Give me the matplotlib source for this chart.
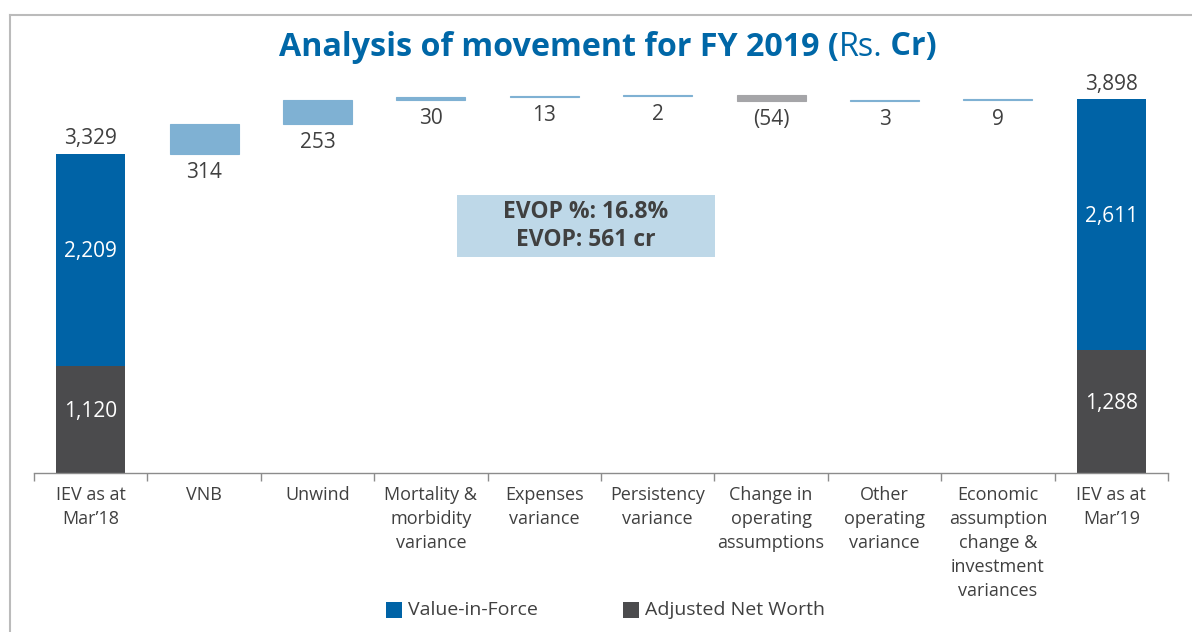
import matplotlib
matplotlib.use('Agg')
import matplotlib.pyplot as plt
from matplotlib.patches import Rectangle
from matplotlib.lines import Line2D

plt.rcParams['font.family'] = ['Open Sans', 'DejaVu Sans']

# ---- data ----
categories = ["IEV as at\nMar\u201918", "VNB", "Unwind", "Mortality &\nmorbidity\nvariance",
              "Expenses\nvariance", "Persistency\nvariance", "Change in\noperating\nassumptions",
              "Other\noperating\nvariance",
              "Economic\nassumption\nchange &\ninvestment\nvariances", "IEV as at\nMar\u201919"]
vif = [2209, 2611]          # Value-in-Force: opening, closing
anw = [1120, 1288]          # Adjusted Net Worth: opening, closing
totals = [3329, 3898]
changes = [314, 253, 30, 13, 2, -54, 3, 9]
change_labels = ["314", "253", "30", "13", "2", "(54)", "3", "9"]
evop_lines = ["EVOP %: 16.8%", "EVOP: 561 cr"]
legend_names = ["Value-in-Force", "Adjusted Net Worth"]

C_VIF = '#0063A6'
C_ANW = '#4B4B4D'
C_POS = '#7FB1D3'
C_NEG = '#A5A5A8'
C_TXT = '#404040'
C_TITLE = '#0067A7'

W, Hf = 1192, 632
fig = plt.figure(figsize=(W / 100, Hf / 100), dpi=100)
px_per_unit = (473 - 154) / 3329.0
ymax = 4000
axh = ymax * px_per_unit
ax = fig.add_axes([34 / W, 1 - 473 / Hf, 1134 / W, axh / Hf])
ax.set_xlim(-0.5, len(categories) - 0.5)
ax.set_ylim(0, ymax)

bw = 0.61
n = len(categories)
# total bars
for idx, pos in enumerate([0, n - 1]):
    ax.bar(pos, anw[idx], width=bw, color=C_ANW, linewidth=0)
    ax.bar(pos, vif[idx], bottom=anw[idx], width=bw, color=C_VIF, linewidth=0)
    ax.annotate(f"{totals[idx]:,}", (pos, totals[idx]), xytext=(0, 15),
                textcoords='offset pixels', ha='center', va='center',
                fontsize=15, color=C_TXT)
    ax.annotate(f"{vif[idx]:,}", (pos, anw[idx] + vif[idx] / 2), xytext=(0, 8),
                textcoords='offset pixels', ha='center', va='center',
                fontsize=15, color='white')
    ax.annotate(f"{anw[idx]:,}", (pos, anw[idx] / 2), xytext=(0, 8),
                textcoords='offset pixels', ha='center', va='center',
                fontsize=15, color='white')

# change bars
cum = totals[0]
for i, (v, lab) in enumerate(zip(changes, change_labels)):
    pos = i + 1
    col = C_POS if v >= 0 else C_NEG
    ax.bar(pos, v, bottom=cum, width=bw, color=col, edgecolor=col, linewidth=0.8)
    low = min(cum, cum + v)
    ax.annotate(lab, (pos, low), xytext=(0, -19), textcoords='offset pixels',
                ha='center', va='center', fontsize=15, color=C_TXT)
    cum += v

# axes styling
for s in ['top', 'right', 'left']:
    ax.spines[s].set_visible(False)
ax.spines['bottom'].set_color('#8C8C8C')
ax.spines['bottom'].set_linewidth(1.0)
ax.set_yticks([])
ax.set_xticks(range(n))
ax.set_xticklabels(categories, fontsize=13, color=C_TXT, linespacing=1.43, va='top')
ax.tick_params(axis='x', which='major', length=0, pad=9)
ax.set_xticks([i - 0.5 for i in range(n + 1)], minor=True)
ax.tick_params(axis='x', which='minor', length=5.5, width=1.0, color='#8C8C8C', direction='out')

# EVOP box
fig.patches.append(Rectangle((457 / W, 1 - 257 / Hf), 258 / W, 62 / Hf,
                             transform=fig.transFigure, facecolor='#BED8E8',
                             edgecolor='none'))
fig.text(586 / W, 1 - 212 / Hf, evop_lines[0], ha='center', va='center',
         fontsize=16.5, fontweight='bold', color=C_TXT)
fig.text(586 / W, 1 - 240 / Hf, evop_lines[1], ha='center', va='center',
         fontsize=16.5, fontweight='bold', color=C_TXT)

# legend
for (x0, col, name) in [(386, C_VIF, legend_names[0]), (623, C_ANW, legend_names[1])]:
    fig.patches.append(Rectangle((x0 / W, 1 - 618 / Hf), 16 / W, 16 / Hf,
                                 transform=fig.transFigure, facecolor=col,
                                 edgecolor='none'))
    fig.text((x0 + 22) / W, 1 - 610 / Hf, name, ha='left', va='center',
             fontsize=14, color=C_TXT)

# border
fig.add_artist(Line2D([10 / W, 10 / W], [0, 1 - 15 / Hf], transform=fig.transFigure,
                      color='#BBBBBB', lw=1.5))
fig.add_artist(Line2D([10 / W, 1], [1 - 15 / Hf, 1 - 15 / Hf], transform=fig.transFigure,
                      color='#BBBBBB', lw=1.5))

# title with mixed weights
renderer = fig.canvas.get_renderer()
parts = [("Analysis of movement for FY 2019 (", 'bold'), ("Rs.", 'normal'), (" Cr)", 'bold')]
texts = []
for s, wgt in parts:
    t = fig.text(0, 1 - 47 / Hf, s, ha='left', va='center', fontsize=23.2,
                 fontweight=wgt, color=C_TITLE)
    texts.append(t)
widths = [t.get_window_extent(renderer).width for t in texts]
total_w = sum(widths)
x = 608 - total_w / 2
for t, w in zip(texts, widths):
    t.set_x(x / W)
    x += w

fig.savefig('out.png', dpi=100)
